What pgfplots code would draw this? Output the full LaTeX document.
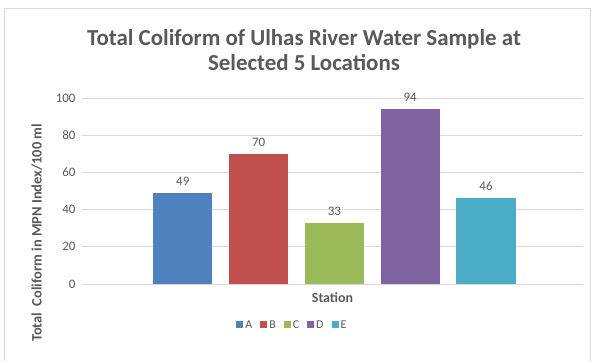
\documentclass[border=0pt]{standalone}
\usepackage{pgfplots}
\pgfplotsset{compat=1.18}
\usepackage{fontspec}
\setmainfont{Carlito}
\definecolor{cA}{HTML}{4F81BD}
\definecolor{cB}{HTML}{C0504D}
\definecolor{cC}{HTML}{9BBB59}
\definecolor{cD}{HTML}{8064A2}
\definecolor{cE}{HTML}{4BACC6}
\definecolor{txt}{HTML}{595959}
\definecolor{grd}{HTML}{D9D9D9}
\begin{document}
\begin{tikzpicture}[x=1bp,y=1bp]
\useasboundingbox (0,0) rectangle (593,361);
\draw[grd, line width=0.8bp] (4,0) -- (4,353) -- (590,353) -- (590,0);
\node[align=center, text=txt, font=\fontsize{23}{25}\selectfont\bfseries] at (304,311) {Total Coliform of Ulhas River Water Sample at\\Selected 5 Locations};
\begin{axis}[
  at={(82bp,77bp)}, anchor=south west,
  scale only axis, width=501bp, height=186bp,
  xmin=-1.33, xmax=5.28, ymin=0, ymax=100,
  ytick={0,20,...,100}, xtick=\empty,
  ymajorgrids, grid style={grd, line width=0.7bp},
  axis line style={draw=none}, major tick length=0pt,
  tick label style={text=txt, font=\fontsize{13}{15}\selectfont},
  yticklabel style={xshift=-3bp},
  /pgf/number format/assume math mode=true,
  xlabel={Station}, xlabel style={text=txt, font=\fontsize{14}{16}\selectfont\bfseries, at={(axis description cs:0.5,-0.075)}, anchor=center},
  ylabel={Total \ Coliform in MPN Index/100 ml}, ylabel style={text=txt, font=\fontsize{14.5}{16}\selectfont\bfseries, at={(axis description cs:-0.09,0.275)}, anchor=center, rotate=0},
  legend style={draw=none, fill=none, at={(axis description cs:0.42,-0.22)}, anchor=center, legend columns=5, font=\fontsize{12}{14}\selectfont, text=txt, /tikz/every even column/.append style={column sep=6bp}},
  legend image code/.code={\fill[#1] (0bp,-3.5bp) rectangle (7bp,3.5bp);},
  nodes near coords, every node near coord/.append style={text=txt, font=\fontsize{13}{15}\selectfont, yshift=4bp},
  nodes near coords style={/pgf/number format/assume math mode=true},
]
\addplot[ybar, bar shift=0pt, bar width=0.78, fill=cA, draw=none] coordinates {(0,49)};
\addlegendentry{A}
\addplot[ybar, bar shift=0pt, bar width=0.78, fill=cB, draw=none] coordinates {(1,70)};
\addlegendentry{B}
\addplot[ybar, bar shift=0pt, bar width=0.78, fill=cC, draw=none] coordinates {(2,33)};
\addlegendentry{C}
\addplot[ybar, bar shift=0pt, bar width=0.78, fill=cD, draw=none] coordinates {(3,94)};
\addlegendentry{D}
\addplot[ybar, bar shift=0pt, bar width=0.78, fill=cE, draw=none] coordinates {(4,46)};
\addlegendentry{E}
\end{axis}
\end{tikzpicture}
\end{document}
